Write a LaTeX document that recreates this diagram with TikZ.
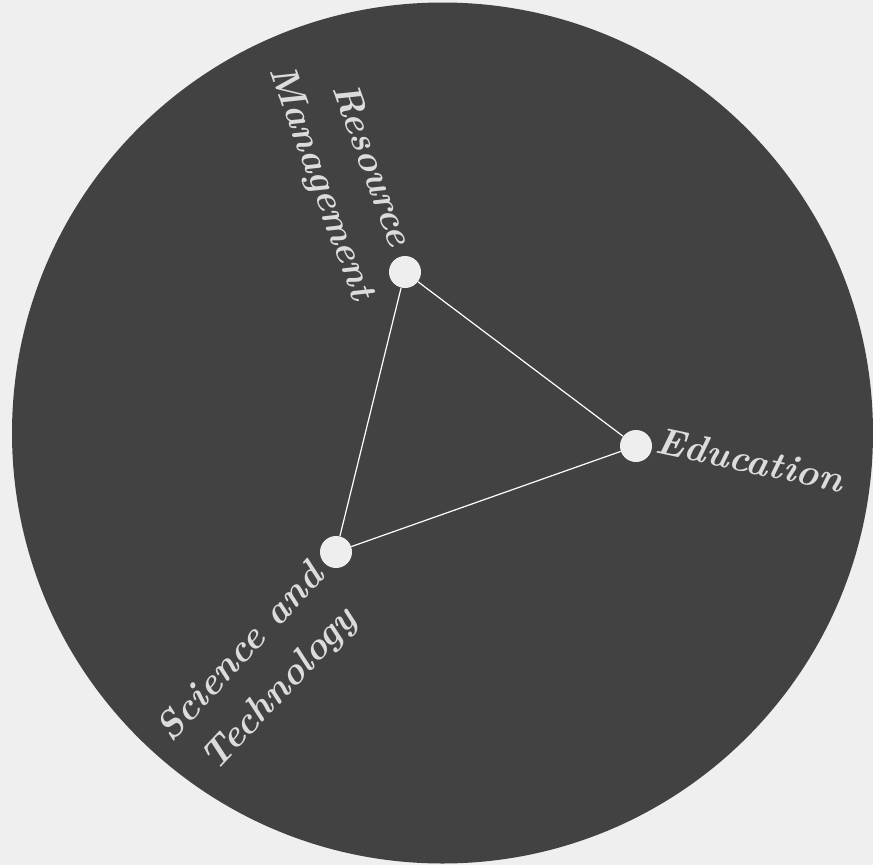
\documentclass[tikz,border=0pt]{standalone}
\definecolor{bgc}{HTML}{EFEFEF}
\definecolor{circc}{HTML}{424242}
\definecolor{txtc}{HTML}{DCDCDC}
\definecolor{dotc}{HTML}{EEEEEE}
\begin{document}
\begin{tikzpicture}[x=1pt,y=-1pt,
  dot/.style={circle,fill=dotc,minimum size=32pt,inner sep=0pt},
  link/.style={draw=white,line width=1.2pt},
  lbl/.style={text=txtc,align=center,inner sep=0pt,font=\fontsize{38}{53}\selectfont\bfseries\itshape}]
\fill[bgc] (0,0) rectangle (873,865);
\useasboundingbox (0,0) rectangle (873,865);
\fill[circc] (442.5,433) circle (430.5pt);
\node[dot] (R) at (405,272) {};
\node[dot] (E) at (636,446) {};
\node[dot] (S) at (336,552) {};
\draw[link] (R) -- (E);
\draw[link] (E) -- (S);
\draw[link] (S) -- (R);
\node[lbl,rotate=-12] (Et) at (750,460) {Education};
\node[lbl,rotate=-70] (Rt) at (345,174) {Resource\\Management};
\node[lbl,rotate=47] (St) at (261,672) {Science and\\Technology};
\end{tikzpicture}
\end{document}
